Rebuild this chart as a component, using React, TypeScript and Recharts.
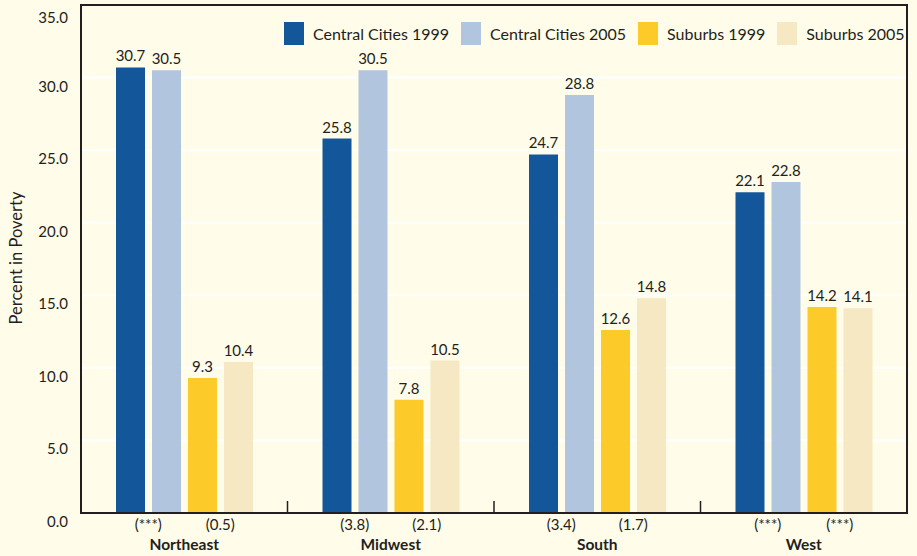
import React from "react";
import {
  BarChart,
  Bar,
  XAxis,
  YAxis,
  CartesianGrid,
  Legend,
  LabelList,
  ReferenceArea,
} from "recharts";

const regions = ["Northeast", "Midwest", "South", "West"];
const cc1999 = [30.7, 25.8, 24.7, 22.1];
const cc2005 = [30.5, 30.5, 28.8, 22.8];
const sub1999 = [9.3, 7.8, 12.6, 14.2];
const sub2005 = [10.4, 10.5, 14.8, 14.1];
const ccChange = ["(***)", "(3.8)", "(3.4)", "(***)"];
const subChange = ["(0.5)", "(2.1)", "(1.7)", "(***)"];
const yTicks = [0, 5, 10, 15, 20, 25, 30, 35];

const series = [
  { key: "cc1999", name: "Central Cities 1999", color: "#13569a" },
  { key: "cc2005", name: "Central Cities 2005", color: "#b2c5de" },
  { key: "sub1999", name: "Suburbs 1999", color: "#fccb2a" },
  { key: "sub2005", name: "Suburbs 2005", color: "#f6e8c2" },
];

const data = regions.map((r, i) => ({
  region: r,
  cc1999: cc1999[i],
  cc2005: cc2005[i],
  sub1999: sub1999[i],
  sub2005: sub2005[i],
  ccChange: ccChange[i],
  subChange: subChange[i],
}));

const W = 917;
const H = 556;
const BG = "#fffce9";
const INK = "#231f20";
const FONT = "Lato, 'Open Sans', sans-serif";
const margin = { top: 5, right: 10, left: 0, bottom: 0 };
const Y_W = 81;
const X_H = 43;
const band = (W - margin.right - Y_W) / regions.length;

const YTick = (props: any) => {
  const { x, y, payload } = props;
  return (
    <text x={x} y={y + 14} textAnchor="end" fontSize={15} fill={INK} fontFamily={FONT}>
      {payload.value.toFixed(1)}
    </text>
  );
};

const XTick = (props: any) => {
  const { x, y, payload, index } = props;
  const d = data[index];
  return (
    <g>
      {index < regions.length - 1 && (
        <line x1={x + band / 2} x2={x + band / 2} y1={y} y2={y - 12} stroke={INK} strokeWidth={1.5} />
      )}
      <text x={x - 36} y={y + 17} textAnchor="middle" fontSize={15} fill={INK} fontFamily={FONT}>
        {d.ccChange}
      </text>
      <text x={x + 36} y={y + 17} textAnchor="middle" fontSize={15} fill={INK} fontFamily={FONT}>
        {d.subChange}
      </text>
      <text x={x} y={y + 37} textAnchor="middle" fontSize={15.5} fontWeight="bold" fill={INK} fontFamily={FONT}>
        {payload.value}
      </text>
    </g>
  );
};

const LegendContent = () => (
  <div
    style={{
      display: "flex",
      alignItems: "center",
      fontFamily: FONT,
      fontSize: 16,
      color: INK,
      whiteSpace: "nowrap",
    }}
  >
    {series.map((s) => (
      <div key={s.key} style={{ display: "flex", alignItems: "center", marginRight: 12, flexShrink: 0 }}>
        <div style={{ width: 20, height: 23, background: s.color, marginRight: 9 }} />
        <span>{s.name}</span>
      </div>
    ))}
  </div>
);

export default function App() {
  return (
    <div style={{ position: "absolute", left: 0, top: 0, width: W, height: H, background: BG }}>
      <BarChart width={W} height={H} data={data} margin={margin} barCategoryGap={35} barGap={7}>
        <CartesianGrid vertical={false} stroke="#ffffff" strokeWidth={2} />
        <XAxis
          dataKey="region"
          height={X_H}
          tick={<XTick />}
          tickLine={false}
          tickSize={0}
          tickMargin={0}
          axisLine={{ stroke: INK, strokeWidth: 2 }}
          interval={0}
        />
        <YAxis
          width={Y_W}
          domain={[0, 35]}
          ticks={yTicks}
          tick={<YTick />}
          tickLine={false}
          tickSize={0}
          tickMargin={13}
          axisLine={{ stroke: INK, strokeWidth: 2 }}
          label={{
            content: () => (
              <text
                x={22}
                y={258}
                transform="rotate(-90, 22, 258)"
                textAnchor="middle"
                fontSize={16.5}
                fill={INK}
                fontFamily={FONT}
              >
                Percent in Poverty
              </text>
            ),
          }}
        />
        <Legend
          layout="horizontal"
          verticalAlign="middle"
          align="center"
          content={<LegendContent />}
          wrapperStyle={{ top: 22, left: 284, width: 630 }}
        />
        {series.map((s) => (
          <Bar key={s.key} dataKey={s.key} name={s.name} fill={s.color} isAnimationActive={false}>
            <LabelList dataKey={s.key} position="top" offset={6} fontSize={15} fill={INK} fontFamily={FONT} />
          </Bar>
        ))}
        <ReferenceArea y1={0} y2={35} fill="none" stroke={INK} strokeWidth={2} ifOverflow="visible" />
      </BarChart>
    </div>
  );
}
